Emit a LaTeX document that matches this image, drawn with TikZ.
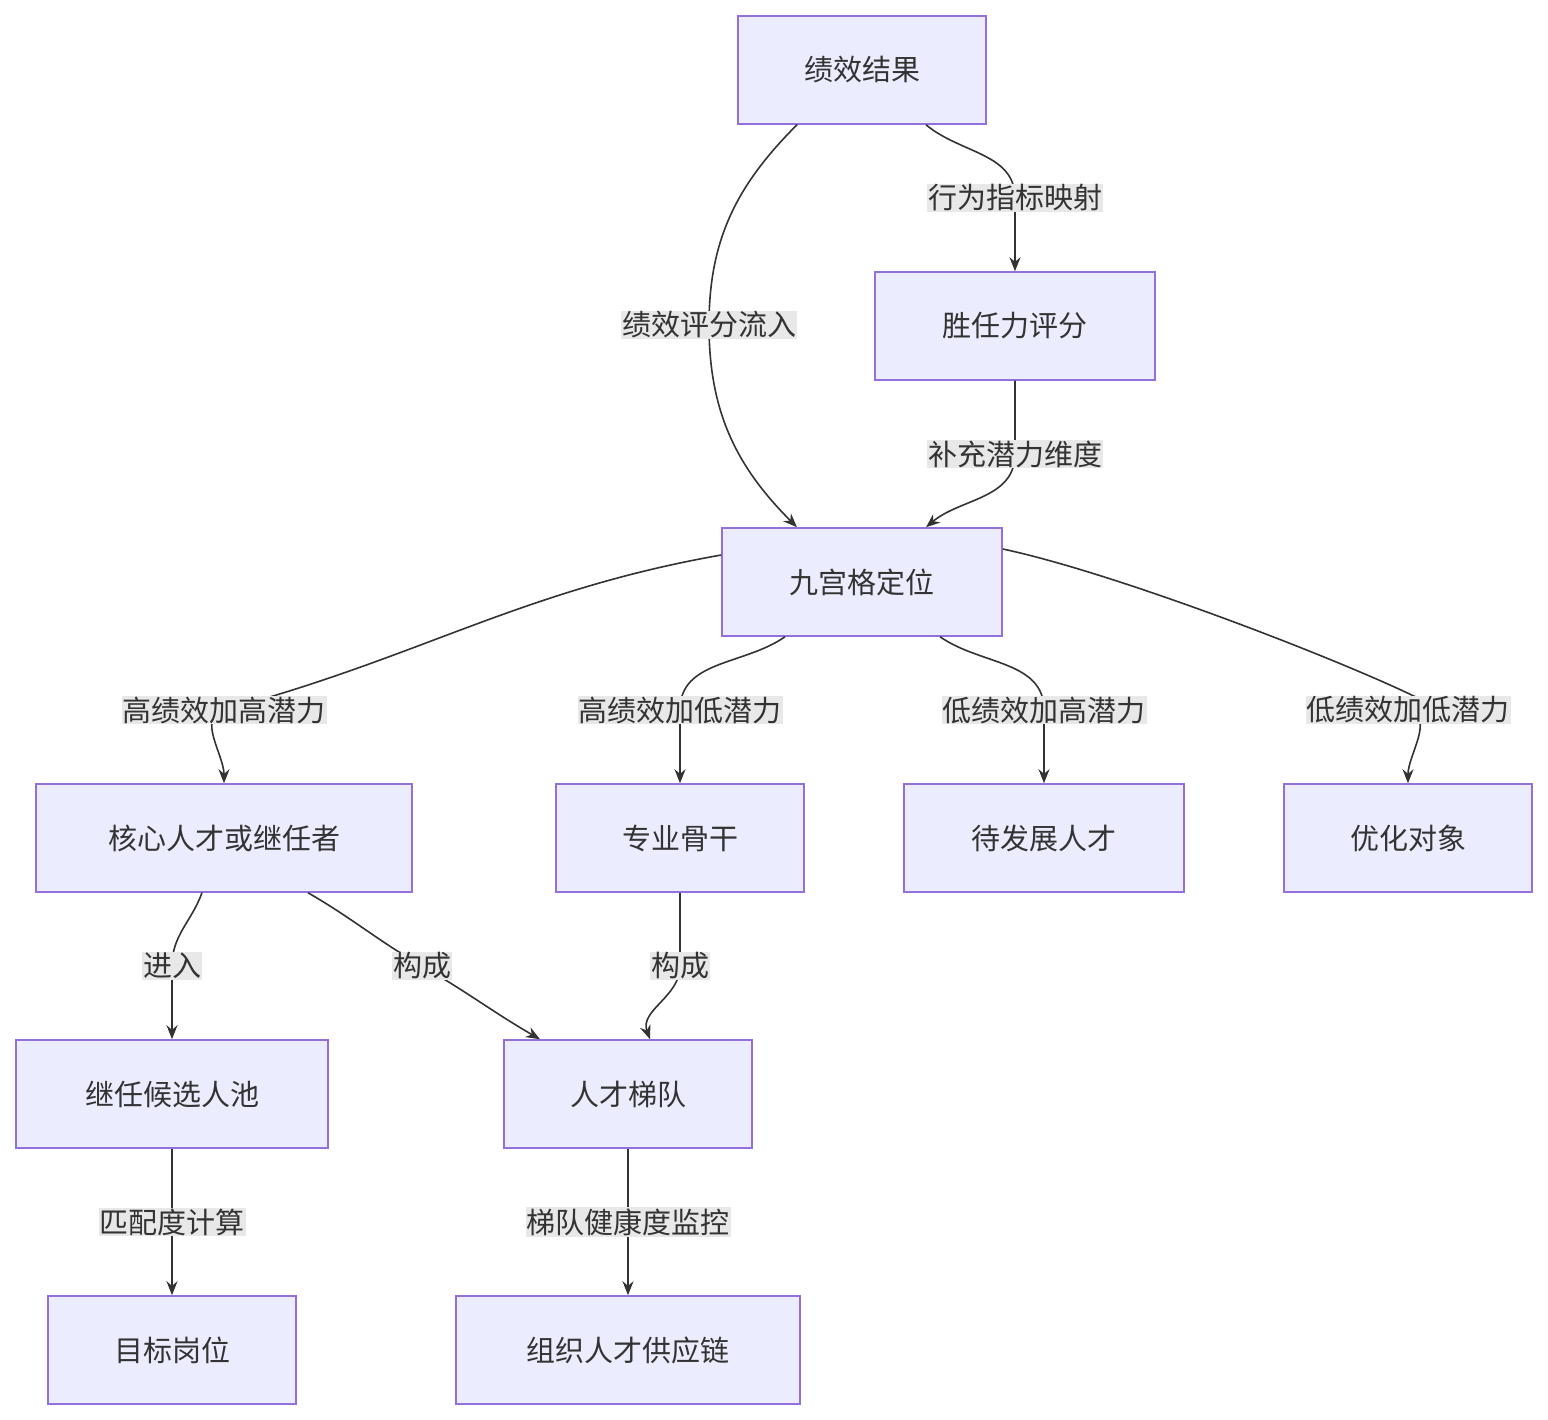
\documentclass[tikz,border=0pt]{standalone}
\usepackage{fontspec}
\setmainfont{Noto Sans CJK SC}
\usetikzlibrary{arrows.meta}
\definecolor{boxfill}{HTML}{ECECFF}
\definecolor{boxline}{HTML}{9370DB}
\definecolor{ink}{HTML}{333333}
\definecolor{lblbg}{HTML}{E8E8E8}
\begin{document}
\begin{tikzpicture}[x=1pt,y=-1pt,font=\fontsize{29}{34}\selectfont,
  box/.style={draw=boxline,fill=boxfill,line width=1.5pt,minimum height=108pt,text=ink,inner sep=0pt},
  lbl/.style={fill=lblbg,text=ink,inner sep=1pt},
  arr/.style={draw=ink,line width=1.6pt,-{Stealth[length=14pt,width=11pt]}}]
\useasboundingbox (0,0) rectangle (1548,1420);

\node[box,minimum width=248pt] (jx) at (862,70) {绩效结果};
\node[box,minimum width=280pt] (sr) at (1015,326) {胜任力评分};
\node[box,minimum width=280pt] (jg) at (862,582) {九宫格定位};
\node[box,minimum width=376pt] (hx) at (224,838) {核心人才或继任者};
\node[box,minimum width=248pt] (zy) at (680,838) {专业骨干};
\node[box,minimum width=280pt] (dfz) at (1044,838) {待发展人才};
\node[box,minimum width=248pt] (yh) at (1408,838) {优化对象};
\node[box,minimum width=312pt] (jr) at (172,1094) {继任候选人池};
\node[box,minimum width=248pt] (td) at (628,1094) {人才梯队};
\node[box,minimum width=248pt] (mb) at (172,1350) {目标岗位};
\node[box,minimum width=344pt] (gy) at (628,1350) {组织人才供应链};

% label anchors
\coordinate (l1) at (709,325);
\coordinate (l2) at (1015,198);
\coordinate (l3) at (1015,454);
\coordinate (l4) at (224,710);
\coordinate (l5) at (680,710);
\coordinate (l6) at (1044,710);
\coordinate (l7) at (1408,710);
\coordinate (l8) at (172,966);
\coordinate (l9) at (422,966);
\coordinate (l10) at (680,966);
\coordinate (l11) at (172,1222);
\coordinate (l12) at (628,1222);

\draw[arr] ([xshift=-65pt]jx.south) to[out=-135,in=90] (l1) to[out=-90,in=135] ([xshift=-65pt]jg.north);
\draw[arr] ([xshift=64pt]jx.south) to[out=-40,in=90] (l2) to[out=-90,in=90] (sr.north);
\draw[arr] (sr.south) to[out=-90,in=90] (l3) to[out=-90,in=40] ([xshift=64pt]jg.north);
\draw[arr] ([yshift=27pt]jg.west) to[out=190,in=15] (l4) to[out=195,in=90] (hx.north);
\draw[arr] ([xshift=-77pt]jg.south) to[out=-145,in=90] (l5) to[out=-90,in=90] (zy.north);
\draw[arr] ([xshift=78pt]jg.south) to[out=-35,in=90] (l6) to[out=-90,in=90] (dfz.north);
\draw[arr] ([yshift=33pt]jg.east) to[out=-12,in=-15] (l7) to[out=-15,in=90] (yh.north);
\draw[arr] ([xshift=-22pt]hx.south) to[out=-110,in=90] (l8) to[out=-90,in=90] (jr.north);
\draw[arr] ([xshift=84pt]hx.south) to[out=-30,in=150] (l9) to[out=-30,in=150] ([xshift=-88pt]td.north);
\draw[arr] (zy.south) to[out=-90,in=90] (l10) to[out=-90,in=110] ([xshift=22pt]td.north);
\draw[arr] (jr.south) -- (mb.north);
\draw[arr] (td.south) -- (gy.north);

\node[lbl] at (l1) {绩效评分流入};
\node[lbl] at (l2) {行为指标映射};
\node[lbl] at (l3) {补充潜力维度};
\node[lbl] at (l4) {高绩效加高潜力};
\node[lbl] at (l5) {高绩效加低潜力};
\node[lbl] at (l6) {低绩效加高潜力};
\node[lbl] at (l7) {低绩效加低潜力};
\node[lbl] at (l8) {进入};
\node[lbl] at (l9) {构成};
\node[lbl] at (l10) {构成};
\node[lbl] at (l11) {匹配度计算};
\node[lbl] at (l12) {梯队健康度监控};
\end{tikzpicture}
\end{document}
